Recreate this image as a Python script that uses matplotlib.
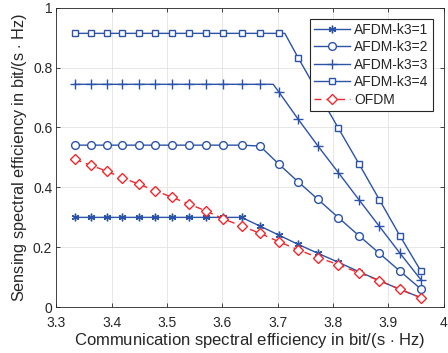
import matplotlib
matplotlib.use("Agg")
import matplotlib.pyplot as plt
import numpy as np

plt.rcParams['font.family'] = ['Liberation Sans', 'DejaVu Sans']
plt.rcParams['mathtext.fontset'] = 'custom'
plt.rcParams['mathtext.rm'] = 'Liberation Sans'

# ---- data ----
comm_se = [3.333, 3.362, 3.391, 3.419, 3.449, 3.479, 3.509, 3.540, 3.570, 3.602,
           3.635, 3.668, 3.702, 3.737, 3.773, 3.810, 3.847, 3.884, 3.921, 3.959]

afdm_k1 = [0.300, 0.300, 0.300, 0.300, 0.300, 0.300, 0.300, 0.300, 0.300, 0.300,
           0.300, 0.271, 0.241, 0.210, 0.180, 0.150, 0.119, 0.089, 0.060, 0.032]
afdm_k2 = [0.541, 0.541, 0.541, 0.541, 0.541, 0.541, 0.541, 0.541, 0.541, 0.541,
           0.541, 0.538, 0.478, 0.419, 0.360, 0.299, 0.239, 0.180, 0.121, 0.061]
afdm_k3 = [0.744, 0.744, 0.744, 0.744, 0.744, 0.744, 0.744, 0.744, 0.744, 0.744,
           0.744, 0.744, 0.719, 0.628, 0.538, 0.449, 0.359, 0.270, 0.181, 0.092]
afdm_k4 = [0.914, 0.914, 0.914, 0.914, 0.914, 0.914, 0.914, 0.914, 0.914, 0.914,
           0.914, 0.914, 0.914, 0.833, 0.716, 0.597, 0.479, 0.359, 0.239, 0.121]
ofdm = [0.494, 0.474, 0.454, 0.432, 0.411, 0.389, 0.367, 0.344, 0.322, 0.295,
        0.271, 0.247, 0.219, 0.192, 0.166, 0.142, 0.115, 0.089, 0.060, 0.032]

# unmarked corner points where the flat part meets the slope
corner_k3 = (3.692, 0.744)
corner_k4 = (3.713, 0.914)

labels = ['AFDM-k3=1', 'AFDM-k3=2', 'AFDM-k3=3', 'AFDM-k3=4', 'OFDM']
x_ticks = [3.3, 3.4, 3.5, 3.6, 3.7, 3.8, 3.9, 4.0]
x_ticklabels = ['3.3', '3.4', '3.5', '3.6', '3.7', '3.8', '3.9', '4']
y_ticks = [0, 0.2, 0.4, 0.6, 0.8, 1.0]
y_ticklabels = ['0', '0.2', '0.4', '0.6', '0.8', '1']

BLUE = '#2b53a7'
RED = '#f0282d'
TXT = '#262626'


def with_corner(xs, ys, corner):
    xs = list(xs)
    ys = list(ys)
    if corner is None:
        return xs, ys, list(range(len(xs)))
    i = int(np.searchsorted(xs, corner[0]))
    xs.insert(i, corner[0])
    ys.insert(i, corner[1])
    marks = [j for j in range(len(xs)) if j != i]
    return xs, ys, marks


fig = plt.figure(figsize=(4.48, 3.53), dpi=100)
ax = fig.add_axes([0.126, 0.1295, 0.864, 0.849])

series = [
    (afdm_k1, None, dict(marker=(6, 2, 0), ms=5.5, mfc=BLUE, mec=BLUE)),
    (afdm_k2, None, dict(marker='o', ms=5.6, mfc='white', mec=BLUE)),
    (afdm_k3, corner_k3, dict(marker='+', ms=6.5, mec=BLUE)),
    (afdm_k4, corner_k4, dict(marker='s', ms=4.0, mfc='white', mec=BLUE)),
]
for (ys, corner, mk), lab in zip(series, labels[:4]):
    xx, yy, marks = with_corner(comm_se, ys, corner)
    ax.plot(xx, yy, color=BLUE, lw=1.0, markevery=marks, mew=1.0, label=lab, **mk)

ax.plot(comm_se, ofdm, color=RED, lw=1.0, ls=(0, (5, 3.5)), marker='D', ms=5.2,
        mfc='white', mec=RED, mew=1.0, label=labels[4])

ax.set_xlim(3.3, 4.0)
ax.set_ylim(0, 1)
ax.set_xticks(x_ticks)
ax.set_xticklabels(x_ticklabels)
ax.set_yticks(y_ticks)
ax.set_yticklabels(y_ticklabels)
ax.grid(True, color='#e3e3e3', lw=0.6)
ax.set_axisbelow(True)
ax.tick_params(direction='in', length=3, width=0.6, colors=TXT, labelsize=10,
               top=True, right=True)
ax.tick_params(axis='x', pad=6)
ax.tick_params(axis='y', pad=3)
for s in ax.spines.values():
    s.set_color(TXT)
    s.set_linewidth(0.6)

ax.set_xlabel('Communication spectral efficiency in bit/(s $\\cdot$ Hz)',
              fontsize=12, color=TXT, labelpad=1)
ax.set_ylabel('Sensing spectral efficiency in bit/(s $\\cdot$ Hz)',
              fontsize=11.7, color=TXT, labelpad=3)

leg = ax.legend(loc='upper right', bbox_to_anchor=(0.972, 0.963), borderaxespad=0,
                fontsize=10, fancybox=False, framealpha=1, edgecolor=TXT,
                handlelength=2.6, handletextpad=0.3, labelspacing=0.25,
                borderpad=0.3)
leg.get_frame().set_linewidth(0.8)
for t in leg.get_texts():
    t.set_color(TXT)

fig.savefig('out.png', dpi=100)
